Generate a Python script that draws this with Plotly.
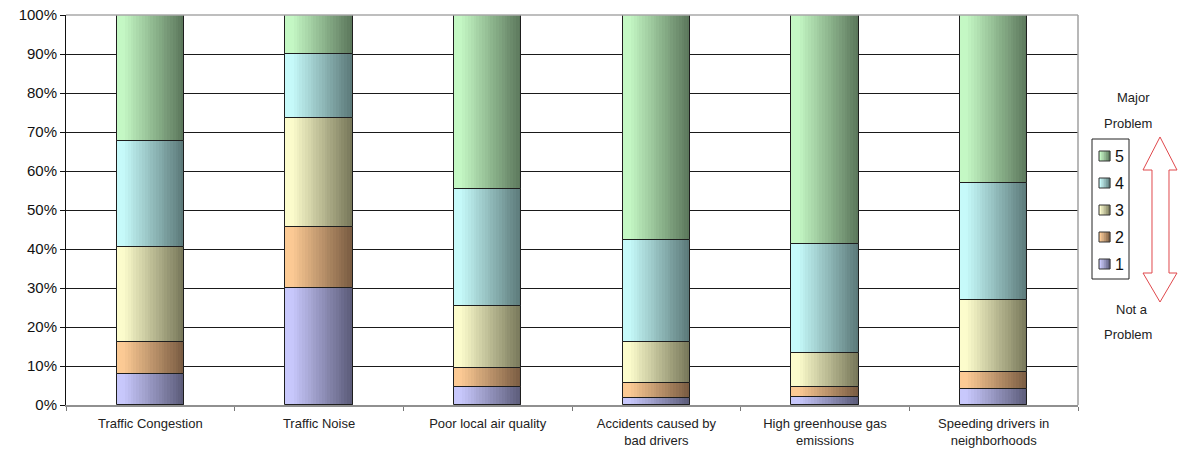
import plotly.graph_objects as go

# Survey: how big a problem is each issue (1 = not a problem, 5 = major problem)
categories = [
    "Traffic Congestion",
    "Traffic Noise",
    "Poor local air quality",
    "Accidents caused by<br>bad drivers",
    "High greenhouse gas<br>emissions",
    "Speeding drivers in<br>neighborhoods",
]
series_names = ["1", "2", "3", "4", "5"]

# percent of responses per rating
rating_1 = [7.9, 29.9, 4.7, 1.7, 2.0, 4.0]
rating_2 = [8.2, 15.7, 4.7, 4.0, 2.7, 4.4]
rating_3 = [24.5, 28.1, 16.0, 10.4, 8.6, 18.4]
rating_4 = [27.2, 16.2, 29.9, 26.2, 28.0, 30.2]
rating_5 = [32.2, 10.1, 44.7, 57.7, 58.7, 43.0]
series_values = [rating_1, rating_2, rating_3, rating_4, rating_5]

y_ticks = list(range(0, 101, 10))
y_tick_labels = [f"{v}%" for v in y_ticks]

# light (left edge) and dark (right edge) colour of each series' gradient
light_cols = [(200, 200, 252), (252, 202, 148), (252, 252, 204), (198, 250, 250), (196, 248, 196)]
dark_cols = [(92, 92, 122), (122, 92, 66), (120, 120, 90), (92, 122, 122), (92, 120, 92)]

BAR_W = 0.4
N_SLICES = 24

# plot-area placement in pixels
W, H = 1180, 453
L, R, T, B = 66, 102, 15, 48
PW, PH = W - L - R, H - T - B


def px(x):
    return (x - L) / PW


def py(y):
    return (H - B - y) / PH


def mix(c0, c1, t):
    return "rgb({},{},{})".format(*[round(a + (b - a) * t) for a, b in zip(c0, c1)])


def shade(s):
    return min(1.0, max(0.0, (s - 0.1) / 0.88))


fig = go.Figure()

bases = [[0.0] * len(categories)]
for vals in series_values[:-1]:
    bases.append([b + v for b, v in zip(bases[-1], vals)])

for si, (name, vals) in enumerate(zip(series_names, series_values)):
    base = bases[si]
    step = BAR_W / N_SLICES
    # vertical slices shaded from light to dark give the horizontal gradient
    for k in range(N_SLICES):
        s = (k + 0.5) / N_SLICES
        last = k == N_SLICES - 1
        fig.add_trace(go.Bar(
            x=categories, y=vals, base=base,
            width=step * (1.0 if last else 1.7),
            offset=-BAR_W / 2 + k * step,
            marker=dict(color=mix(light_cols[si], dark_cols[si], shade(s)), line=dict(width=0)),
            showlegend=False, hoverinfo="skip",
        ))
    # segment outline
    fig.add_trace(go.Bar(
        x=categories, y=vals, base=base, width=BAR_W, offset=-BAR_W / 2,
        marker=dict(color="rgba(0,0,0,0)", line=dict(color="#1e1e1e", width=1)),
        showlegend=False, name=name,
        customdata=vals, hovertemplate="%{x}<br>" + name + ": %{customdata:.1f}%<extra></extra>",
    ))

shapes = [
    dict(type="line", xref="paper", yref="paper", x0=0, x1=1, y0=1, y1=1,
         line=dict(color="#a8a8a8", width=1.5), layer="above"),
    dict(type="line", xref="paper", yref="paper", x0=1, x1=1, y0=0, y1=1,
         line=dict(color="#a0a0a0", width=1.5), layer="above"),
]

# legend box with gradient swatches, 5 at the top
shapes.append(dict(type="rect", xref="paper", yref="paper",
                   x0=px(1092), x1=px(1129), y0=py(279), y1=py(139),
                   line=dict(color="#222", width=1), fillcolor="white"))
annotations = []
leg_font = dict(family="Liberation Sans, Arial, sans-serif", size=16, color="#111")
for row, si in enumerate(reversed(range(len(series_names)))):
    cy = 156 + row * 27
    n_sw = 5
    for k in range(n_sw):
        x0 = 1099 + k * 11 / n_sw
        shapes.append(dict(type="rect", xref="paper", yref="paper",
                           x0=px(x0), x1=px(x0 + 11 / n_sw + 0.3), y0=py(cy + 5), y1=py(cy - 5),
                           line=dict(width=0),
                           fillcolor=mix(light_cols[si], dark_cols[si], shade((k + 0.5) / n_sw))))
    shapes.append(dict(type="rect", xref="paper", yref="paper",
                       x0=px(1099), x1=px(1110), y0=py(cy + 5), y1=py(cy - 5),
                       line=dict(color="#333", width=1), fillcolor="rgba(0,0,0,0)"))
    annotations.append(dict(text=series_names[si], x=px(1113), y=py(cy), xref="paper", yref="paper",
                            showarrow=False, xanchor="left", yanchor="middle", font=leg_font))

# double-headed arrow from "Not a Problem" to "Major Problem"
arrow_pts = [
    (1160, 137), (1177, 170), (1169, 170), (1169, 273), (1177, 273),
    (1160, 302), (1143, 273), (1152, 273), (1152, 170), (1143, 170),
]
arrow_path = "M " + " L ".join(f"{px(x):.5f},{py(y):.5f}" for x, y in arrow_pts) + " Z"
shapes.append(dict(type="path", xref="paper", yref="paper", path=arrow_path,
                   line=dict(color="#e0484c", width=1), fillcolor="white"))

ann_font = dict(family="Liberation Sans, Arial, sans-serif", size=13, color="#222")
annotations += [
    dict(text=txt, x=px(x), y=py(y), xref="paper", yref="paper", showarrow=False,
         xanchor="center", yanchor="middle", font=ann_font)
    for txt, x, y in [("Major", 1133, 97), ("Problem", 1128, 123),
                      ("Not a", 1132, 309), ("Problem", 1128, 334)]
]

fig.update_layout(
    width=W, height=H,
    margin=dict(l=L, r=R, t=T, b=B, pad=0, autoexpand=False),
    barmode="overlay",
    bargap=0,
    showlegend=False,
    paper_bgcolor="white", plot_bgcolor="white",
    font=dict(family="Liberation Sans, Arial, sans-serif", color="#111"),
    shapes=shapes,
    annotations=annotations,
    xaxis=dict(
        type="category", tickson="boundaries", ticks="outside", ticklen=4,
        tickcolor="#777", showline=True, linecolor="#909090", linewidth=1.5,
        showgrid=False, tickfont=dict(size=13, color="#222"), automargin=False,
        ticklabelstandoff=6,
    ),
    yaxis=dict(
        range=[0, 100], tickvals=y_ticks, ticktext=y_tick_labels, ticks="outside", ticklen=5,
        tickcolor="#111", showline=True, linecolor="#111", linewidth=1,
        showgrid=True, gridcolor="#1a1a1a", gridwidth=1, zeroline=False,
        tickfont=dict(size=15, color="#111"), automargin=False,
    ),
)

fig.write_html("out.html")
